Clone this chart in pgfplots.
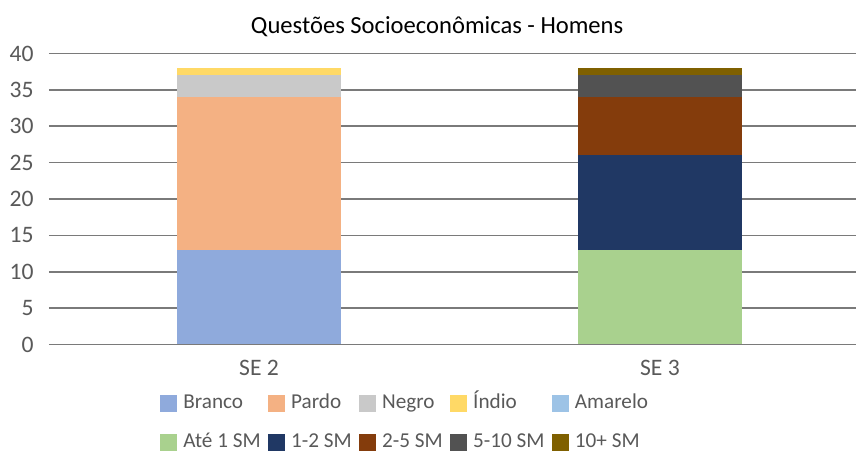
\documentclass[border=0pt]{standalone}
\usepackage{pgfplots}
\pgfplotsset{compat=1.18}
\usepackage{fontspec}
\setmainfont{Carlito}
\usetikzlibrary{calc}
\definecolor{txt}{HTML}{595959}
\definecolor{gridc}{HTML}{7A7A7A}
\definecolor{cBranco}{HTML}{8FAADC}
\definecolor{cPardo}{HTML}{F4B183}
\definecolor{cNegro}{HTML}{C9C9C9}
\definecolor{cIndio}{HTML}{FFD966}
\definecolor{cAmarelo}{HTML}{9DC3E6}
\definecolor{cA}{HTML}{A9D18E}
\definecolor{cB}{HTML}{203864}
\definecolor{cC}{HTML}{843C0C}
\definecolor{cD}{HTML}{525252}
\definecolor{cE}{HTML}{7F6000}
\begin{document}
\begin{tikzpicture}
\begin{axis}[
  scale only axis, width=403.5pt, height=145.5pt,
  ybar stacked, bar width=82pt,
  xmin=-0.5237, xmax=1.4888, ymin=0, ymax=40,
  xtick={0,1}, xticklabels={SE 2, SE 3},
  ytick={0,5,...,40},
  ymajorgrids, grid style={draw=gridc, line width=0.8pt},
  axis line style={draw=none}, major tick length=0pt,
  tick label style={font=\fontsize{11.8}{13}\selectfont, text=txt},
  /pgf/number format/assume math mode=true,
  yticklabel style={inner sep=0pt, anchor=east, xshift=-7.5pt},
  xticklabel style={inner sep=0pt, anchor=north, yshift=-7.5pt},
  title={Questões Socioeconômicas - Homens},
  title style={font=\fontsize{12.3}{14}\selectfont, text=black, at={(rel axis cs:0.481,1)}, anchor=base, yshift=3.75pt, inner sep=0pt},
  legend columns=5,
  legend cell align=left,
  legend image code/.code={\fill[#1] (0pt,-4.25pt) rectangle (8.5pt,4.25pt);},
  legend style={draw=none, fill=none, font=\fontsize{10.6}{12}\selectfont, text=txt,
    at={(rel axis cs:0.1375,0)}, anchor=north west, yshift=-24pt, inner sep=0pt,
    /tikz/every odd column/.append style={column sep=2.5pt},
    /tikz/every even column/.append style={column sep=3.2pt},
    /tikz/row sep=9pt,
    nodes={inner sep=0.5pt, text height=7.5pt, text depth=2pt}},
]
\addplot[fill=cBranco, draw=none] coordinates {(0,13) (1,0)};
\addplot[fill=cPardo, draw=none] coordinates {(0,21) (1,0)};
\addplot[fill=cNegro, draw=none] coordinates {(0,3) (1,0)};
\addplot[fill=cIndio, draw=none] coordinates {(0,1) (1,0)};
\addplot[fill=cAmarelo, draw=none] coordinates {(0,0) (1,0)};
\addplot[fill=cA, draw=none] coordinates {(0,0) (1,13)};
\addplot[fill=cB, draw=none] coordinates {(0,0) (1,13)};
\addplot[fill=cC, draw=none] coordinates {(0,0) (1,8)};
\addplot[fill=cD, draw=none] coordinates {(0,0) (1,3)};
\addplot[fill=cE, draw=none] coordinates {(0,0) (1,1)};
\legend{Branco, Pardo, Negro, Índio, Amarelo, Até 1 SM, 1-2 SM, 2-5 SM, 5-10 SM, 10+ SM}
\end{axis}
\pgfresetboundingbox
\path[use as bounding box] ($(current axis.south west)+(-24.5pt,-53.25pt)$) rectangle ($(current axis.north east)+(0pt,26.75pt)$);
\end{tikzpicture}
\end{document}
